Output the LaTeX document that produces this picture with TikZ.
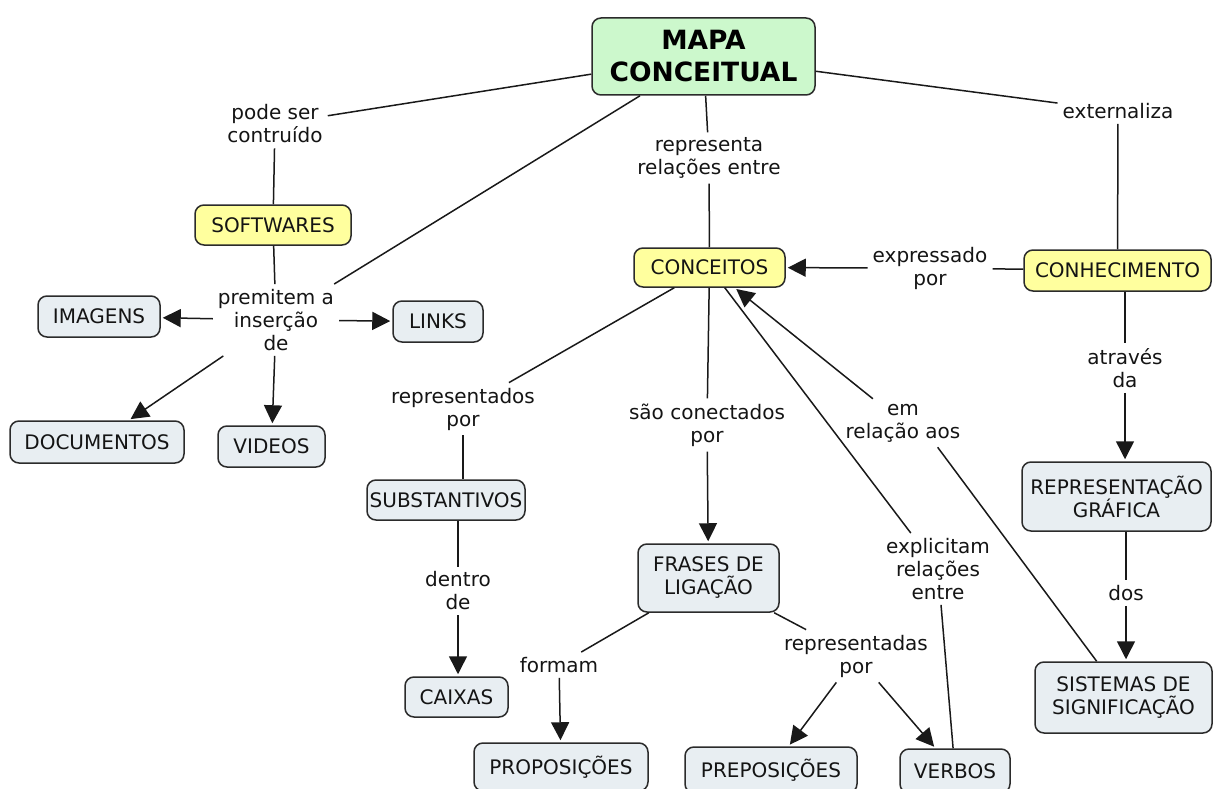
\documentclass[tikz,border=0pt]{standalone}
\usepackage{fontspec}
\setmainfont{DejaVu Sans}
\usetikzlibrary{arrows.meta}

\definecolor{boxblue}{HTML}{E8EEF2}
\definecolor{boxyellow}{HTML}{FFFF9E}
\definecolor{boxgreen}{HTML}{CCF8CC}
\definecolor{edgegray}{HTML}{2B2B2B}
\definecolor{txt}{HTML}{141414}

\tikzset{
  concept/.style={draw=edgegray, line width=1.5pt, rounded corners=9pt, fill=boxblue,
    align=center, inner sep=0pt, text=txt, font=\fontsize{20}{23}\selectfont},
  keyc/.style={concept, fill=boxyellow},
  titlec/.style={concept, fill=boxgreen, text=black, font=\fontsize{26.5}{32}\bfseries\selectfont},
  linkphrase/.style={align=center, inner sep=5pt, text=txt, font=\fontsize{20}{23}\selectfont},
  conn/.style={line width=1.5pt, draw=black!90},
  arr/.style={conn, -{Triangle[length=18pt,width=18pt]}, shorten >=2pt},
}

\begin{document}
\begin{tikzpicture}[x=1pt, y=-1pt]
\useasboundingbox (0,0) rectangle (1216,789);

% concepts
\node[titlec, minimum width=223pt, minimum height=77pt] (mapa) at (703.5,56.5) {MAPA\\CONCEITUAL};
\node[keyc, minimum width=156pt, minimum height=40pt] (softwares) at (273,225) {SOFTWARES};
\node[keyc, minimum width=151pt, minimum height=39pt] (conceitos) at (709.5,267.5) {CONCEITOS};
\node[keyc, minimum width=187pt, minimum height=41pt] (conhecimento) at (1117.5,270.5) {CONHECIMENTO};
\node[concept, minimum width=122pt, minimum height=41pt] (imagens) at (99,316.5) {IMAGENS};
\node[concept, minimum width=90pt, minimum height=41pt] (links) at (438,321.5) {LINKS};
\node[concept, minimum width=174pt, minimum height=42pt] (documentos) at (97,442) {DOCUMENTOS};
\node[concept, minimum width=107pt, minimum height=41pt] (videos) at (271.5,446.5) {VIDEOS};
\node[concept, minimum width=158pt, minimum height=40pt] (substantivos) at (446,500) {SUBSTANTIVOS};
\node[concept, minimum width=141pt, minimum height=68pt] (frases) at (708.5,578) {FRASES DE\\LIGAÇÃO};
\node[concept, minimum width=103pt, minimum height=40pt] (caixas) at (456.5,697) {CAIXAS};
\node[concept, minimum width=174pt, minimum height=48pt] (proposicoes) at (561,767) {PROPOSIÇÕES};
\node[concept, minimum width=172pt, minimum height=46pt] (preposicoes) at (771,770) {PREPOSIÇÕES};
\node[concept, minimum width=110pt, minimum height=44pt] (verbos) at (955,771) {VERBOS};
\node[concept, minimum width=189pt, minimum height=69pt] (grafica) at (1116.5,496.5) {REPRESENTAÇÃO\\GRÁFICA};
\node[concept, minimum width=177pt, minimum height=71pt] (sistemas) at (1123.5,697.5) {SISTEMAS DE\\SIGNIFICAÇÃO};

% linking phrases
\node[linkphrase] (lpode) at (275,124) {pode ser\\contruído};
\node[linkphrase] (lrepr) at (709,158) {representa\\relações entre};
\node[linkphrase] (lext) at (1118,111) {externaliza};
\node[linkphrase] (lperm) at (276,320) {premitem a\\inserção\\de};
\node[linkphrase] (lexpr) at (930,268) {expressado\\por};
\node[linkphrase] (latr) at (1125,368) {através\\da};
\node[linkphrase] (lrdos) at (463,409) {representados\\por};
\node[linkphrase] (lcon) at (707,425) {são conectados\\por};
\node[linkphrase] (lrel) at (903,423) {em\\relação aos};
\node[linkphrase] (ldentro) at (458,591) {dentro\\de};
\node[linkphrase] (lexpl) at (938,569) {explicitam\\relações\\entre};
\node[linkphrase] (lformam) at (559,665) {formam};
\node[linkphrase] (lrdas) at (856,656) {representadas\\por};
\node[linkphrase] (ldos) at (1126,593) {dos};

% connectors
\draw[conn] (mapa) -- (lpode);
\draw[conn] (lpode) -- (softwares);
\draw[conn] (mapa) -- (lperm);
\draw[conn] (softwares) -- (lperm);
\draw[arr] (lperm) -- (imagens);
\draw[arr] (lperm) -- (links);
\draw[arr] (lperm) -- (documentos);
\draw[arr] (lperm) -- (videos);

\draw[conn] (mapa) -- (lrepr);
\draw[conn] (lrepr) -- (conceitos);
\draw[conn] (mapa) -- (lext);
\draw[conn] (lext) -- (conhecimento);

\draw[conn] (conhecimento) -- (lexpr);
\draw[arr] (lexpr) -- (conceitos);
\draw[conn] (conhecimento.south -| latr.south) -- (latr);
\draw[arr] (latr) -- (grafica.north -| latr.south);
\draw[conn] (grafica.south -| ldos.north) -- (ldos);
\draw[arr] (ldos) -- (sistemas.north -| ldos.south);
\draw[conn] (sistemas) -- (lrel.-35);
\draw[arr] (lrel) -- (conceitos);

\draw[conn] (conceitos) -- (lrdos);
\draw[conn] (lrdos) -- (substantivos.north -| lrdos.south);
\draw[conn] (substantivos.south -| ldentro.north) -- (ldentro);
\draw[arr] (ldentro) -- (caixas.north -| ldentro.south);

\draw[conn] (conceitos) -- (lcon);
\draw[arr] (lcon) -- (frases);
\draw[conn] (frases) -- (lformam);
\draw[arr] (lformam) -- (proposicoes);
\draw[conn] (frases) -- (lrdas);
\draw[arr] (lrdas) -- (preposicoes);
\draw[arr] (lrdas) -- (verbos);

\draw[conn] (conceitos) -- (lexpl);
\draw[conn] (verbos) -- (lexpl);
\end{tikzpicture}
\end{document}
